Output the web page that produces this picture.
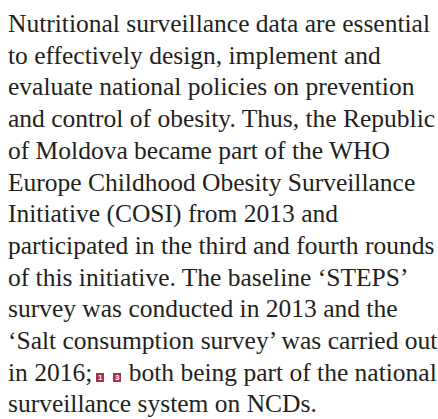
<!DOCTYPE html>
<html>
<head>
<meta charset="utf-8">
<script src="https://cdn.jsdelivr.net/npm/chart.js@4"></script>
<style>
html,body{margin:0;padding:0;background:#fff;}
body{width:438px;height:419px;overflow:hidden;}
#p{position:absolute;left:8px;top:8px;font-family:"Liberation Serif","Times New Roman",serif;font-size:25.5px;line-height:31.7px;color:#231f20;white-space:nowrap;}
.ref{display:inline-block;background:#a3324f;color:#fff;font-family:"Liberation Sans",Arial,sans-serif;font-weight:bold;font-size:8px;width:8px;height:9.5px;line-height:9.5px;text-align:center;vertical-align:1px;margin-left:4px;}
.ref + .ref{margin-left:9px;margin-right:1px;}
</style>
</head>
<body>
<div id="p"></div>
<script>
const lines = [
  "Nutritional surveillance data are essential",
  "to effectively design, implement and",
  "evaluate national policies on prevention",
  "and control of obesity. Thus, the Republic",
  "of Moldova became part of the WHO",
  "Europe Childhood Obesity Surveillance",
  "Initiative (COSI) from 2013 and",
  "participated in the third and fourth rounds",
  "of this initiative. The baseline \u2018STEPS\u2019",
  "survey was conducted in 2013 and the",
  "\u2018Salt consumption survey\u2019 was carried out",
  "in 2016;{refs} both being part of the national",
  "surveillance system on NCDs."
];
const refs = ["1", "3"];
const p = document.getElementById('p');
lines.forEach(l => {
  const d = document.createElement('div');
  if (l.includes('{refs}')) {
    const [a, b] = l.split('{refs}');
    d.appendChild(document.createTextNode(a));
    refs.forEach(r => { const s = document.createElement('span'); s.className = 'ref'; s.textContent = r; d.appendChild(s); });
    d.appendChild(document.createTextNode(b));
  } else d.textContent = l;
  p.appendChild(d);
});
</script>
</body>
</html>
